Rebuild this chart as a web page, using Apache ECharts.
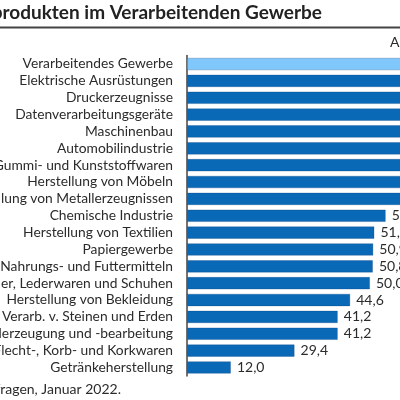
<!DOCTYPE html>
<html>
<head>
<meta charset="utf-8">
<script src="https://cdn.jsdelivr.net/npm/echarts@6/dist/echarts.min.js"></script>
<style>
  html, body { margin: 0; padding: 0; background: #fff; }
  #wrap { position: relative; width: 400px; height: 400px; overflow: hidden; }
  #chart { position: absolute; left: -200px; top: 0; width: 800px; height: 400px; }
</style>
</head>
<body>
<div id="wrap"><div id="chart"></div></div>
<script>
// Anteil der Unternehmen mit Knappheit an Vorprodukten, in %
const categories = [
  'Verarbeitendes Gewerbe',
  'Elektrische Ausrüstungen',
  'Druckerzeugnisse',
  'Datenverarbeitungsgeräte',
  'Maschinenbau',
  'Automobilindustrie',
  'Herstellung von Gummi- und Kunststoffwaren',
  'Herstellung von Möbeln',
  'Herstellung von Metallerzeugnissen',
  'Chemische Industrie',
  'Herstellung von Textilien',
  'Papiergewerbe',
  'Herstellung von Nahrungs- und Futtermitteln',
  'Herstellung von Leder, Lederwaren und Schuhen',
  'Herstellung von Bekleidung',
  'Glas, Keramik, Verarb. v. Steinen und Erden',
  'Metallerzeugung und -bearbeitung',
  'Holz-, Flecht-, Korb- und Korkwaren',
  'Getränkeherstellung'
]
const values = [67.3, 89.2, 87.5, 86.4, 83.9, 80.9, 74.6, 71.8, 68.7, 54.3, 51.2, 50.9, 50.8, 50.0, 44.6, 41.2, 41.2, 29.4, 12.0]

const font = 'Lato'
const dark = '#0a69b6'
const light = '#80c8fb'

const chart = echarts.init(document.getElementById('chart'), null, { renderer: 'canvas' })

chart.setOption({
  animation: false,
  textStyle: { fontFamily: font },
  grid: { left: 387, right: 47, top: 55.6, bottom: 24.1, containLabel: false },
  xAxis: {
    type: 'value',
    min: 0,
    max: 100,
    show: false
  },
  yAxis: {
    type: 'category',
    inverse: true,
    data: categories,
    axisLine: { show: true, lineStyle: { color: '#444', width: 1.5 } },
    axisTick: { show: false },
    axisLabel: { interval: 0, margin: 14, fontSize: 13.8, color: '#2b2b2b', fontFamily: font }
  },
  series: [{
    type: 'bar',
    barCategoryGap: '26%',
    data: values.map((v, i) => ({
      value: v,
      itemStyle: { color: i === 0 ? light : dark }
    })),
    itemStyle: { borderColor: 'rgba(0,60,120,0.35)', borderWidth: 0.8 },
    label: {
      show: true,
      position: 'right',
      distance: 6,
      fontSize: 14,
      color: '#2b2b2b',
      fontFamily: font,
      formatter: p => p.value.toFixed(1).replace('.', ',')
    }
  }],
  graphic: [
    {
      type: 'text', x: 522, y: 13,
      style: {
        text: 'Knappheit an Vorprodukten im Verarbeitenden Gewerbe',
        font: 'bold 19px ' + font, fill: '#222',
        textAlign: 'right', textVerticalAlign: 'middle'
      }
    },
    {
      type: 'line',
      shape: { x1: 0, y1: 27.5, x2: 800, y2: 27.5 },
      style: { stroke: '#444', lineWidth: 2 }
    },
    {
      type: 'text', x: 590, y: 42,
      style: {
        text: 'Anteil in %',
        font: '14px ' + font, fill: '#2b2b2b',
        textAlign: 'left', textVerticalAlign: 'middle'
      }
    },
    {
      type: 'text', x: 321, y: 389,
      style: {
        text: 'Quelle: ifo Konjunkturumfragen, Januar 2022.',
        font: '14px ' + font, fill: '#2b2b2b',
        textAlign: 'right', textVerticalAlign: 'middle'
      }
    }
  ]
})
</script>
</body>
</html>
